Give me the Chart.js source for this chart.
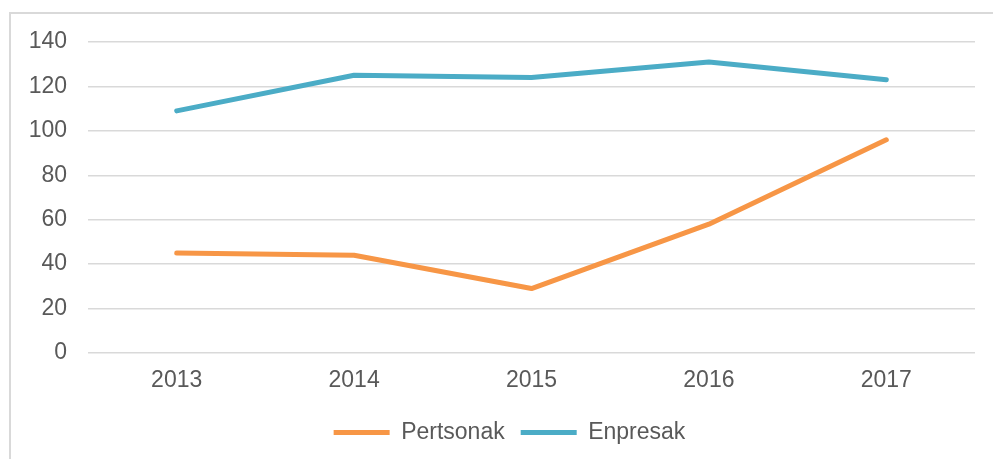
<!DOCTYPE html>
<html>
<head>
<meta charset="utf-8">
<script src="https://cdn.jsdelivr.net/npm/chart.js@4/dist/chart.umd.min.js"></script>
<style>
html, body { margin: 0; padding: 0; background: #fff; }
#wrap { position: relative; width: 993px; height: 459px; overflow: hidden; }
#frame { position: absolute; left: 9px; top: 12px; width: 1000px; height: 460px;
  border-left: 2px solid #d9d9d9; border-top: 2px solid #d9d9d9; }
canvas { position: absolute; left: 0; top: 0; }
</style>
</head>
<body>
<div id="wrap">
  <div id="frame"></div>
  <canvas id="grafico" width="993" height="459"></canvas>
</div>
<script>
// urteak eta balioak
var urteak = ["2013", "2014", "2015", "2016", "2017"];
var pertsonak = [45, 44, 29, 58, 96];
var enpresak = [109, 125, 124, 131, 123];
var yTicks = [0, 20, 40, 60, 80, 100, 120, 140];

var testuKolorea = "#595959";
var letra = { family: "'Liberation Sans', Arial, sans-serif", size: 23 };

// legenda pixka bat eskuinera mugitu
var legendaMugitu = {
  id: "legendaMugitu",
  afterLayout: function(chart) {
    chart.legend.left += 22;
    chart.legend.right += 22;
  }
};

var canvas = document.getElementById("grafico");
var datuak = {
  labels: urteak,
  datasets: [
    {
      label: "Pertsonak",
      data: pertsonak,
      borderColor: "#f79646",
      backgroundColor: "#f79646",
      borderWidth: 5,
      borderCapStyle: "round",
      borderJoinStyle: "round",
      pointRadius: 0,
      tension: 0
    },
    {
      label: "Enpresak",
      data: enpresak,
      borderColor: "#4bacc6",
      backgroundColor: "#4bacc6",
      borderWidth: 5,
      borderCapStyle: "round",
      borderJoinStyle: "round",
      pointRadius: 0,
      tension: 0
    }
  ]
};

var lineChart = new Chart(canvas, {
  type: "line",
  data: datuak,
  plugins: [legendaMugitu],
  options: {
    responsive: false,
    animation: false,
    layout: { padding: { left: 0, right: 18, top: 42, bottom: 5 } },
    plugins: {
      legend: {
        position: "bottom",
        labels: {
          usePointStyle: true,
          pointStyle: "line",
          pointStyleWidth: 56,
          boxHeight: 5,
          padding: 16,
          color: testuKolorea,
          font: letra
        }
      },
      tooltip: { enabled: false }
    },
    scales: {
      x: {
        offset: true,
        grid: { display: false, drawTicks: false },
        border: { display: false },
        ticks: { color: testuKolorea, font: letra, padding: 14, maxRotation: 0 },
        afterFit: function(s) { s.height = 52; }
      },
      y: {
        min: 0,
        max: 140,
        afterBuildTicks: function(s) { s.ticks = yTicks.map(function(v) { return { value: v }; }); },
        grid: { color: "#d9d9d9", lineWidth: 1.5, drawTicks: false },
        border: { display: false },
        ticks: { color: testuKolorea, font: letra, padding: 21 },
        afterFit: function(s) { s.width = 88; }
      }
    }
  }
});
</script>
</body>
</html>
